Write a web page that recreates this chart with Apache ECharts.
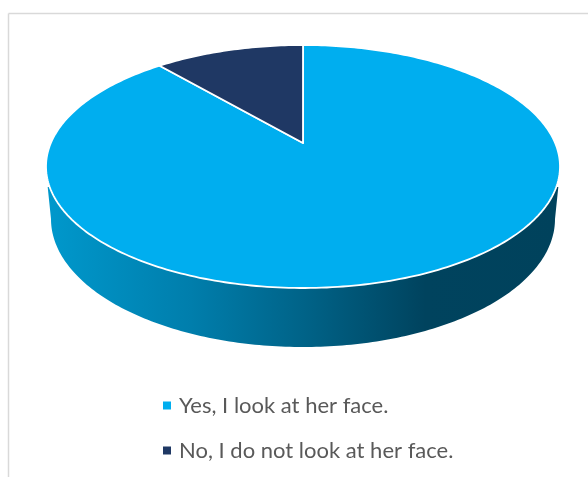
<!DOCTYPE html>
<html>
<head>
<meta charset="utf-8">
<style>html,body{margin:0;padding:0;background:#fff}#c{width:588px;height:477px}</style>
<script src="https://cdn.jsdelivr.net/npm/echarts@6/dist/echarts.min.js"></script>
</head>
<body>
<div id="c"></div>
<script>
var categories = ['Yes, I look at her face.', 'No, I do not look at her face.'];
var values = [88.7, 11.3];
var colors = ['#00AEEF', '#1F3864'];

var total = values.reduce(function (s, v) { return s + v; }, 0);
var view = { cx: 303, cy: 166.5, a: 257, b: 121.5, tilt: -0.193 };
var wall = { cx: 303, cy: 219, a: 252, b: 128 };

function project(deg) {
  var r = deg * Math.PI / 180, u = Math.sin(r), v = -Math.cos(r), t = view.tilt;
  var d = 1 + t * v, s = Math.sqrt(1 - t * t);
  return [view.cx + view.a * u * s / d, view.cy + view.b * (v + t) / d];
}
function sliceRender(startValue, value, color) {
  return function (params, api) {
    var start = startValue / total * 360, sweep = value / total * 360;
    var pts = [[view.cx, view.cy + view.b * view.tilt]];
    var n = Math.max(8, Math.ceil(sweep));
    for (var i = 0; i <= n; i++) pts.push(project(start + sweep * i / n));
    return {
      type: 'polygon',
      shape: { points: pts },
      style: { fill: color, stroke: '#fff', lineWidth: 1.8, lineJoin: 'round' }
    };
  };
}
function wallRender() {
  var pts = [], i, ang;
  var topY = 187;
  var dx = view.a * Math.sqrt(1 - Math.pow((topY - view.cy) / view.b, 2)) + 2;
  pts.push([view.cx - dx, topY]);
  for (i = 0; i <= 180; i++) {
    ang = Math.PI - i * Math.PI / 180;
    pts.push([wall.cx + wall.a * Math.cos(ang), wall.cy + wall.b * Math.sin(ang)]);
  }
  pts.push([view.cx + dx, topY]);
  return {
    type: 'polygon',
    shape: { points: pts },
    style: {
      fill: new echarts.graphic.LinearGradient(0, 0, 1, 0, [
        { offset: 0, color: '#0098CC' },
        { offset: 0.28, color: '#007EAC' },
        { offset: 0.5, color: '#006388' },
        { offset: 0.74, color: '#00435E' },
        { offset: 1, color: '#00425C' }
      ])
    }
  };
}

var chart = echarts.init(document.getElementById('c'), null, { renderer: 'canvas' });
chart.setOption({
  animation: false,
  backgroundColor: '#fff',
  graphic: [
    { type: 'line', shape: { x1: 8.5, y1: 13.5, x2: 588, y2: 13.5 }, style: { stroke: '#D9D9D9', lineWidth: 1.5 } },
    { type: 'line', shape: { x1: 8.5, y1: 13.5, x2: 8.5, y2: 477 }, style: { stroke: '#D9D9D9', lineWidth: 1.5 } }
  ],
  legend: {
    data: categories,
    orient: 'vertical',
    left: 158,
    top: 388,
    icon: 'rect',
    itemWidth: 8,
    itemHeight: 8,
    itemGap: 20,
    selectedMode: false,
    textStyle: { fontFamily: 'Lato', fontSize: 22, color: '#595959', height: 25, lineHeight: 25, padding: [0, 0, 0, 3] }
  },
  series: [
    { type: 'custom', name: 'wall', coordinateSystem: 'none', silent: true, renderItem: wallRender, data: [0] },
    { type: 'custom', name: categories[0], coordinateSystem: 'none', itemStyle: { color: colors[0] },
      renderItem: sliceRender(0, values[0], colors[0]), data: [values[0]] },
    { type: 'custom', name: categories[1], coordinateSystem: 'none', itemStyle: { color: colors[1] },
      renderItem: sliceRender(values[0], values[1], colors[1]), data: [values[1]] }
  ]
});
</script>
</body>
</html>
